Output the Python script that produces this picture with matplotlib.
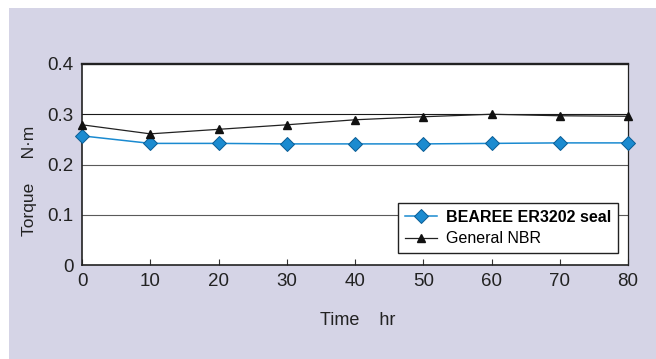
import numpy as np
import matplotlib.pyplot as plt
from matplotlib.patches import Rectangle

plt.rcParams['font.family'] = ['Liberation Sans', 'DejaVu Sans']

# data
time_hr = [0, 10, 20, 30, 40, 50, 60, 70, 80]
torque_bearee = [0.257, 0.242, 0.242, 0.241, 0.241, 0.241, 0.242, 0.243, 0.243]
torque_nbr = [0.279, 0.261, 0.270, 0.279, 0.289, 0.295, 0.300, 0.297, 0.296]
y_ticks = [0, 0.1, 0.2, 0.3, 0.4]
y_ticklabels = ['0', '0.1', '0.2', '0.3', '0.4']
x_ticks = [0, 10, 20, 30, 40, 50, 60, 70, 80]

W, H = 656, 359
fig = plt.figure(figsize=(W / 100, H / 100), dpi=100)
fig.patch.set_facecolor('white')
# lavender panel behind the chart
fig.patches.append(Rectangle((9 / W, 0), 1 - 9 / W, 1 - 8 / H, transform=fig.transFigure,
                             facecolor='#d5d4e6', edgecolor='none', zorder=-10))

ax = fig.add_axes([82 / W, 1 - 265 / H, (628 - 82) / W, (265 - 64) / H])
ax.set_facecolor('white')

# gridlines
for yv, c in zip([0.1, 0.2, 0.3], ['#5a5a5a', '#5a5a5a', '#1a1a1a']):
    ax.axhline(yv, color=c, lw=0.8, zorder=1)

ax.plot(time_hr, torque_bearee, color='#1a8ad0', lw=1.1, marker='D', ms=7.5,
        mfc='#1b8bd0', mec='#0a5c94', mew=0.7, label='BEAREE ER3202 seal', zorder=3,
        clip_on=False)
ax.plot(time_hr, torque_nbr, color='#222222', lw=0.9, marker='^', ms=5.5,
        mfc='#111111', mec='#111111', label='General NBR', zorder=3, clip_on=False)

ax.set_xlim(0, 80)
ax.set_ylim(0, 0.4)
ax.set_xticks(x_ticks)
ax.set_yticks(y_ticks)
ax.set_yticklabels(y_ticklabels)
ax.tick_params(axis='x', direction='in', length=4, width=0.8, color='#333333',
               labelsize=13.5, pad=6, labelcolor='#222222')
ax.tick_params(axis='y', length=0, labelsize=13.5, pad=6, labelcolor='#222222')
for s in ax.spines.values():
    s.set_color('#222222')
ax.spines['top'].set_linewidth(1.7)
ax.spines['left'].set_linewidth(1.2)
ax.spines['bottom'].set_linewidth(1.2)
ax.spines['right'].set_linewidth(0.9)

ax.set_xlabel('Time    hr', fontsize=13, color='#222222')
ax.xaxis.set_label_coords(0.5055, -0.235)
ax.set_ylabel('Torque     N\u00b7m', fontsize=12.5, color='#222222')
ax.yaxis.set_label_coords(-0.082, 0.42)

leg = ax.legend(loc='lower right', bbox_to_anchor=(0.982, 0.06), fontsize=11.5,
                frameon=True, fancybox=False, edgecolor='#222222', framealpha=1,
                handlelength=2.0, handletextpad=0.6, borderpad=0.42, labelspacing=0.42,
                borderaxespad=0)
leg.get_frame().set_linewidth(1.0)
leg.get_texts()[0].set_fontweight('bold')

fig.savefig('out.png', dpi=100)
